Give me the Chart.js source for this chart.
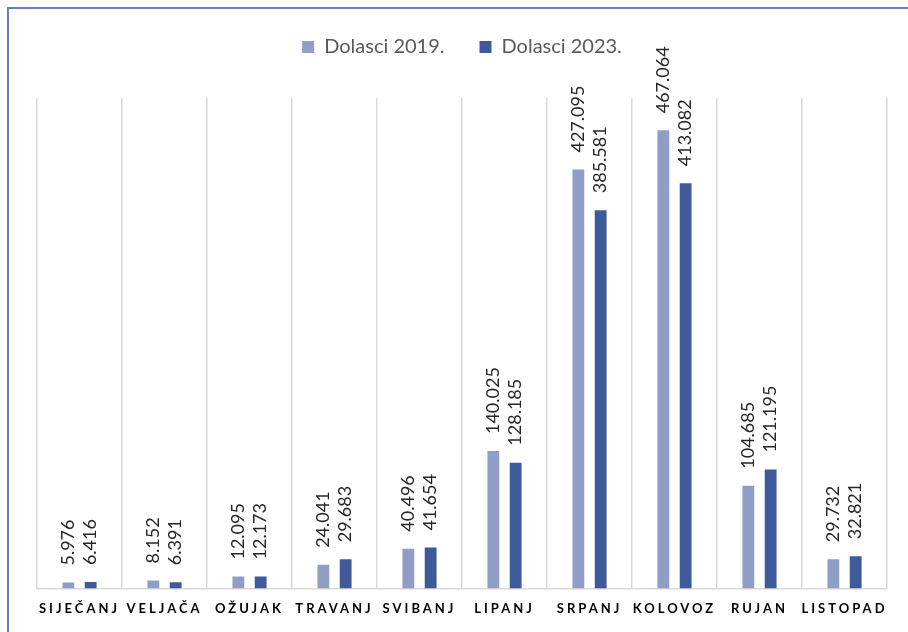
<!DOCTYPE html>
<html lang="hr">
<head>
<meta charset="utf-8">
<title>Dolasci 2019. i 2023.</title>
<script src="https://cdn.jsdelivr.net/npm/chart.js@4/dist/chart.umd.min.js"></script>
<style>
  html, body { margin: 0; padding: 0; background: #fff; }
  #wrap { position: relative; width: 908px; height: 632px; overflow: hidden; }
  #frame {
    position: absolute; left: 7px; top: 7px; width: 920px; height: 640px;
    border-left: 2px solid #6580b8; border-top: 2px solid #6580b8;
    pointer-events: none;
  }
  canvas { position: absolute; left: 0; top: 0; }
</style>
</head>
<body>
<div id="wrap">
  <canvas id="dolasciChart" width="908" height="632"></canvas>
  <div id="frame"></div>
</div>
<script>
// mjeseci i dolasci po godinama
var mjeseci = ['SIJEČANJ', 'VELJAČA', 'OŽUJAK', 'TRAVANJ', 'SVIBANJ', 'LIPANJ', 'SRPANJ', 'KOLOVOZ', 'RUJAN', 'LISTOPAD'];
var dolasci2019 = [5976, 8152, 12095, 24041, 40496, 140025, 427095, 467064, 104685, 29732];
var dolasci2023 = [6416, 6391, 12173, 29683, 41654, 128185, 385581, 413082, 121195, 32821];

// 12345 -> "12.345"
function formatBroj(n) {
	return String(n).replace(/\B(?=(\d{3})+(?!\d))/g, '.');
}

// okomite oznake vrijednosti iznad stupaca + razmak slova za mjesece
var oznakePlugin = {
	id: 'oznake',
	beforeInit: function(chart) {
		// dodatni razmak ispod legende
		var legend = chart.legend;
		var fit = legend.fit;
		legend.fit = function() {
			fit.call(legend);
			legend.height += 31;
		};
	},
	afterDatasetsDraw: function(chart) {
		var ctx = chart.ctx;
		chart.data.datasets.forEach(function(ds, i) {
			var meta = chart.getDatasetMeta(i);
			meta.data.forEach(function(bar, j) {
				ctx.save();
				ctx.translate(bar.x, bar.y - 17);
				ctx.rotate(-Math.PI / 2);
				ctx.font = '18px Lato, "Open Sans", sans-serif';
				ctx.fillStyle = '#262626';
				ctx.textAlign = 'left';
				ctx.textBaseline = 'middle';
				ctx.fillText(formatBroj(ds.data[j]), 0, 0);
				ctx.restore();
			});
		});
		// x oznake se crtaju poslije stupaca (ticks.z = 1)
		ctx.letterSpacing = '3px';
	},
	afterDraw: function(chart) {
		chart.ctx.letterSpacing = '0px';
	}
};

var chartArea = document.getElementById('dolasciChart').getContext('2d');
var myChart = new Chart(chartArea, {
	type: 'bar',
	data: {
		labels: mjeseci,
		datasets: [{
			label: 'Dolasci 2019.',
			data: dolasci2019,
			backgroundColor: '#909ec6',
			barPercentage: 0.53,
			categoryPercentage: 0.525
		},
		{
			label: 'Dolasci 2023.',
			data: dolasci2023,
			backgroundColor: '#3e5a99',
			barPercentage: 0.53,
			categoryPercentage: 0.525
		}]
	},
	options: {
		responsive: false,
		animation: false,
		layout: {
			padding: { left: 37, right: 21, top: 2, bottom: 2 }
		},
		plugins: {
			legend: {
				position: 'top',
				labels: {
					boxWidth: 12,
					boxHeight: 12,
					padding: 35,
					color: '#595959',
					font: { family: 'Lato, "Open Sans", sans-serif', size: 20 }
				}
			},
			tooltip: { enabled: false }
		},
		scales: {
			x: {
				grid: {
					offset: true,
					color: '#d9d9d9',
					lineWidth: 1.5,
					drawTicks: false
				},
				border: { color: '#d9d9d9', width: 1.5 },
				ticks: {
					z: 1,
					padding: 13,
					color: '#000',
					maxRotation: 0,
					autoSkip: false,
					font: { family: 'Lato, "Open Sans", sans-serif', size: 13, weight: 'bold' }
				}
			},
			y: {
				display: false,
				beginAtZero: true,
				min: 0,
				max: 500000
			}
		}
	},
	plugins: [oznakePlugin]
});
</script>
</body>
</html>
